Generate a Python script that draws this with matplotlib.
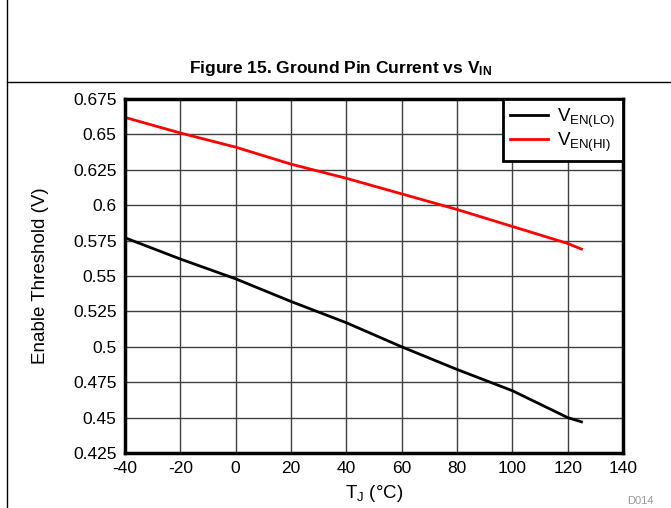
import matplotlib
matplotlib.use("Agg")
import matplotlib.pyplot as plt
from matplotlib.lines import Line2D

plt.rcParams['font.family'] = ['Liberation Sans', 'DejaVu Sans']
plt.rcParams['mathtext.fontset'] = 'custom'
plt.rcParams['mathtext.rm'] = 'Liberation Sans'
plt.rcParams['mathtext.it'] = 'Liberation Sans'
plt.rcParams['mathtext.bf'] = 'Liberation Sans:bold'
plt.rcParams['axes.unicode_minus'] = False

# junction temperature (C)
temp = [-40, -20, 0, 20, 40, 60, 80, 100, 120, 125]
# enable thresholds (V)
ven_lo = [0.577, 0.562, 0.548, 0.532, 0.517, 0.500, 0.484, 0.469, 0.450, 0.447]
ven_hi = [0.662, 0.651, 0.641, 0.629, 0.619, 0.608, 0.597, 0.585, 0.573, 0.569]

xticks = [-40, -20, 0, 20, 40, 60, 80, 100, 120, 140]
yticks = [0.425, 0.45, 0.475, 0.5, 0.525, 0.55, 0.575, 0.6, 0.625, 0.65, 0.675]
ylabels = ['0.425', '0.45', '0.475', '0.5', '0.525', '0.55', '0.575', '0.6',
           '0.625', '0.65', '0.675']

FS = 12.5

fig = plt.figure(figsize=(6.71, 5.08), dpi=100)

# frame lines of the page
fig.add_artist(Line2D([7/671, 7/671], [0, 1], color='black', lw=1.0))
fig.add_artist(Line2D([7/671, 1], [1 - 82/508, 1 - 82/508], color='black', lw=1.0))
fig.text(0.507, 1 - 68/508, r'Figure 15. Ground Pin Current vs V$_{\mathbf{IN}}$',
         ha='center', va='center', fontsize=12.5, fontweight='bold')

ax = fig.add_axes([125/671, 1 - 453/508, 498/671, 354/508])
ax.plot(temp, ven_lo, color='black', lw=2, label=r'V$_{\mathrm{EN(LO)}}$')
ax.plot(temp, ven_hi, color='red', lw=2, label=r'V$_{\mathrm{EN(HI)}}$')

ax.set_xlim(-40, 140)
ax.set_ylim(0.425, 0.675)
ax.set_xticks(xticks)
ax.set_yticks(yticks)
ax.set_yticklabels(ylabels)
ax.tick_params(length=0, labelsize=FS, pad=6, colors='black')
ax.grid(True, color='#404040', lw=1.0)
ax.set_axisbelow(True)
for s in ax.spines.values():
    s.set_linewidth(2.5)

ax.set_xlabel(r'T$_\mathrm{J}$ ($\degree$C)', fontsize=13.5, labelpad=5)
ax.set_ylabel('Enable Threshold (V)', fontsize=13.5, labelpad=17)

leg = ax.legend(loc='upper right', fontsize=13.5, fancybox=False, framealpha=1,
                edgecolor='black', borderaxespad=0, handlelength=2.0,
                handletextpad=0.5, labelspacing=0.05, borderpad=0.4)
leg.get_frame().set_linewidth(2)

fig.text(640/671, 1 - 501/508, 'D014', fontsize=8, color='#999999',
         ha='center', va='center')

fig.savefig('out.png', dpi=100)
